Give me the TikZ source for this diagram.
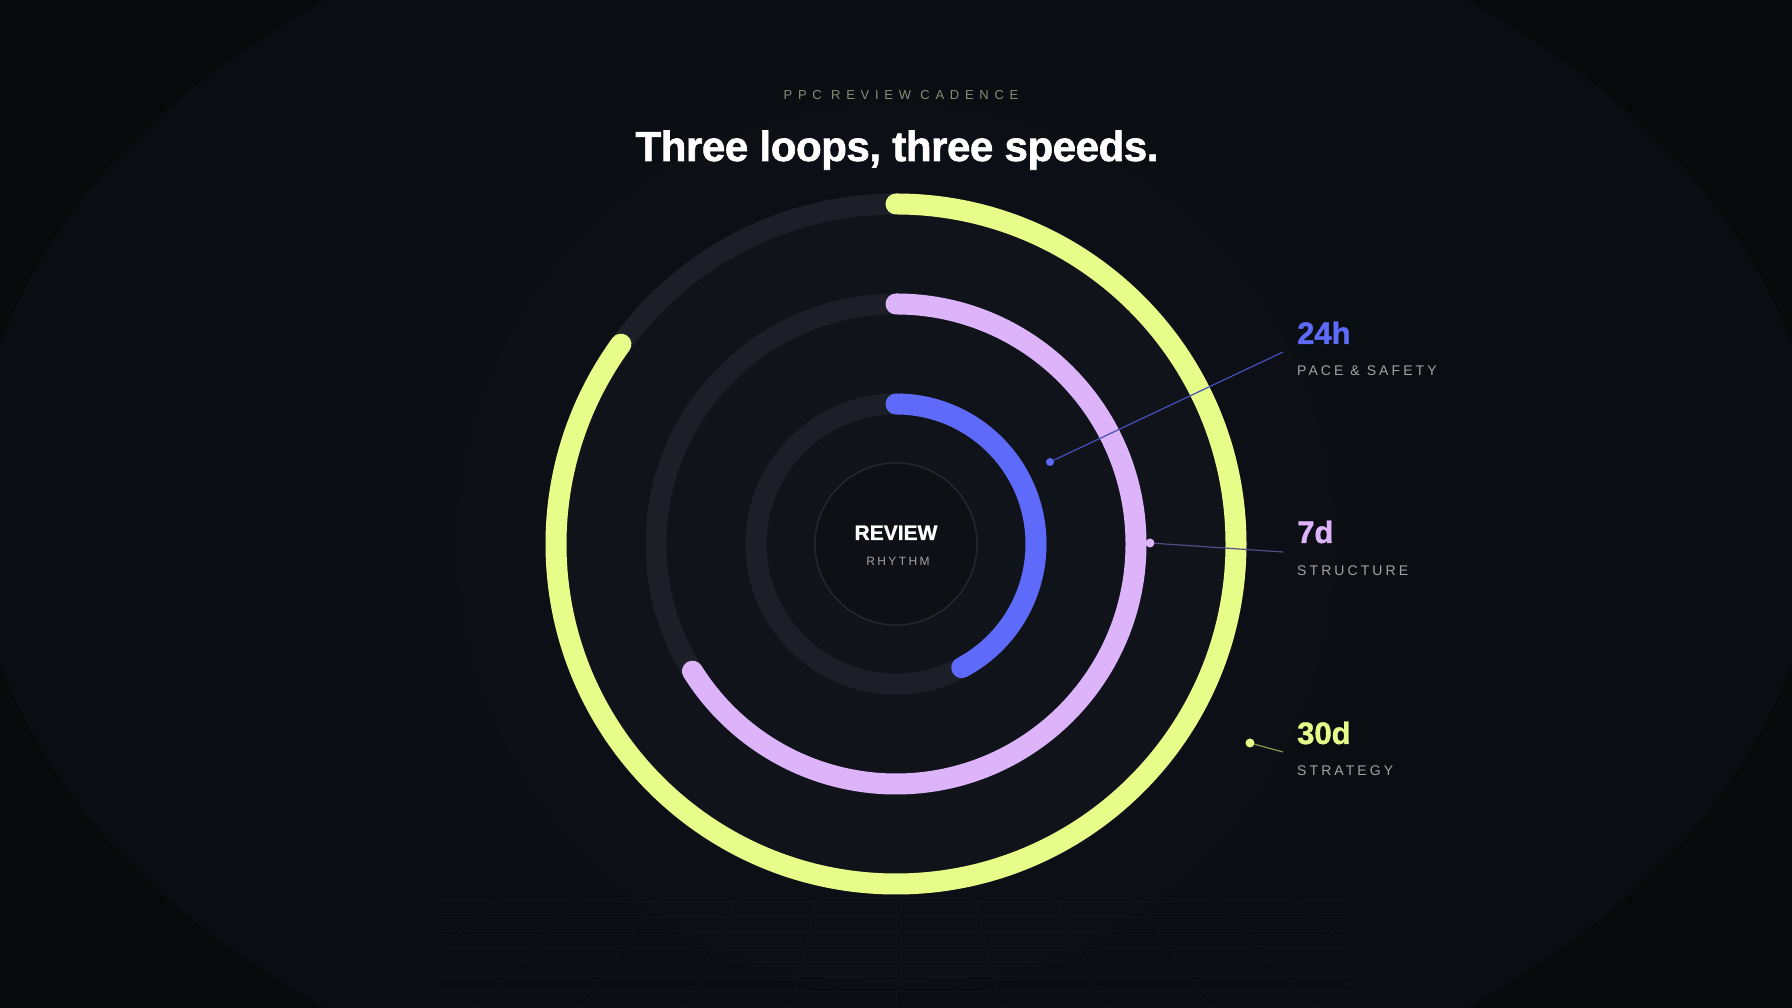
\documentclass[tikz,border=0pt]{standalone}
\usepackage{fontspec}
\setmainfont{Liberation Sans}
\usetikzlibrary{positioning,calc}
\definecolor{bgdark}{HTML}{08090B}
\definecolor{bgmid}{HTML}{0A0D11}
\definecolor{glowin}{HTML}{11131B}
\definecolor{trackgray}{HTML}{1C1F28}
\definecolor{hubfill}{HTML}{0E1016}
\definecolor{hubline}{HTML}{242731}
\definecolor{lime}{HTML}{E8FC8A}
\definecolor{lilac}{HTML}{DDB4FA}
\definecolor{indigo}{HTML}{5E6BFA}
\definecolor{labelgray}{HTML}{A3A3A3}
\definecolor{eyebrow}{HTML}{8A8C78}
\definecolor{gridgray}{HTML}{10141A}
\tikzset{
  ringtrack/.style={draw=trackgray,line width=21pt},
  ringarc/.style={line width=21pt,line cap=round},
  pin/.style={shape=circle,inner sep=0pt,minimum width=9pt},
  leader/.style={line width=1.2pt},
  gridline/.style={draw=gridgray,line width=1pt},
  numlabel/.style={font=\fontsize{31}{31}\selectfont\bfseries\addfontfeature{FakeBold=1.2},
    anchor=base west,inner sep=0pt},
  caption/.style={font=\fontsize{14}{14}\selectfont\addfontfeature{LetterSpace=22},
    text=labelgray,anchor=base west,inner sep=0pt}
}

\begin{document}
\begin{tikzpicture}[x=1pt,y=1pt]
  \useasboundingbox (0,0) rectangle (1792,1008);
  \fill[bgdark] (0,0) rectangle (1792,1008);
  \fill[bgmid] (896,504) ellipse [x radius=925,y radius=640];
  \coordinate (c) at (896,464);
  % soft glow behind the loops
  \foreach \r in {450,440,...,360}
    \fill[glowin,opacity=0.2] (c) circle (\r);
  \fill[glowin] (c) circle (350);
  % floor grid
  \begin{scope}
    \clip (440,0) rectangle (1350,112);
    \foreach \k in {-6,...,6}
      \draw[gridline] (c) -- ($(c)!3!(896+\k*80,108)$);
    \foreach \y in {1,16,...,106}
      \draw[gridline] (440,\y) -- (1350,\y);
  \end{scope}
  % tracks and loops
  \foreach \r in {140,240,340}
    \draw[ringtrack] (c) circle (\r);
  \draw[ringarc,lime] ($(c)+(0,340)$) arc[start angle=90,end angle=-216,radius=340];
  \draw[ringarc,lilac] ($(c)+(0,240)$) arc[start angle=90,end angle=-148,radius=240];
  \draw[ringarc,indigo] ($(c)+(0,140)$) arc[start angle=90,end angle=-62,radius=140];
  \node (hub) [circle,minimum size=162pt,fill=hubfill,draw=hubline,line width=1.5pt] at (c) {};
  \node (review) [font=\fontsize{21}{21}\selectfont\bfseries\addfontfeature{FakeBold=1},text=white,
    anchor=base,inner sep=0pt] at (896,468) {REVIEW};
  \node (rhythm) [font=\fontsize{12}{12}\selectfont\addfontfeature{LetterSpace=20},text=labelgray,
    anchor=base,inner sep=0pt] at (898,442) {RHYTHM};
  % heading
  \node (kicker) [font=\fontsize{13}{13}\selectfont\addfontfeature{LetterSpace=44},text=eyebrow,
    anchor=base,inner sep=0pt] at (901,908) {PPC REVIEW CADENCE};
  \node (title) [font=\fontsize{42}{42}\selectfont\bfseries\addfontfeature{FakeBold=1.5,LetterSpace=-1},
    text=white,anchor=base,inner sep=0pt] at (897,847) {Three loops, three speeds.};
  % leaders
  \node (p24) [pin,fill=indigo,minimum width=8pt] at (1050,546) {};
  \node (p7) [pin,fill=lilac] at (1150,465) {};
  \node (p30) [pin,fill=lime] at (1250,265) {};
  \coordinate (e24) at (1283,656);
  \coordinate (e7) at (1283,456);
  \coordinate (e30) at (1283,256);
  \draw[leader,draw=indigo!75!black] (p24) -- (e24);
  \draw[leader,draw=lilac!45!indigo!55!black] (p7) -- (e7);
  \draw[leader,draw=lime!60!black] (p30) -- (e30);
  % labels
  \node (n24) [numlabel,text=indigo] at (1297,664) {24h};
  \node (t24) [caption] at ($(n24.base west)+(0,-32)$) {PACE \& SAFETY};
  \node (n7) [numlabel,text=lilac] at (1297,465) {7d};
  \node (t7) [caption] at ($(n7.base west)+(0,-33)$) {STRUCTURE};
  \node (n30) [numlabel,text=lime] at (1297,264) {30d};
  \node (t30) [caption] at ($(n30.base west)+(0,-32)$) {STRATEGY};
\end{tikzpicture}
\end{document}
